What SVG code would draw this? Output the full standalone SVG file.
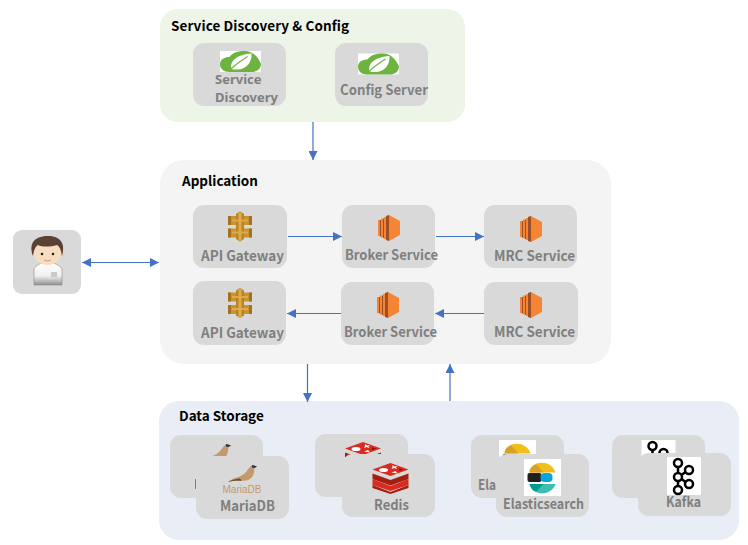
<svg xmlns="http://www.w3.org/2000/svg" width="748" height="545" viewBox="0 0 748 545">
<style>
.card{fill:#d9d9d9}
.lbl{font-family:"Noto Sans CJK KR","Noto Sans",sans-serif;font-weight:700;font-size:14px;fill:#7f7f7f}
.title{font-family:"Noto Sans CJK KR","Noto Sans",sans-serif;font-weight:700;font-size:13.5px;fill:#000}
.c{stroke:#4472c4;stroke-width:1.2;fill:none}
</style>
<defs>
<marker id="a" markerUnits="userSpaceOnUse" markerWidth="10" markerHeight="9" refX="9" refY="4.500" orient="auto-start-reverse"><path d="M0 0L9 4.500L0 9Z" fill="#4472c4"/></marker>
<g id="spring">
<rect x="-20.500" y="-10.500" width="41" height="21" fill="#fff"/>
<path d="M-20.500 2.500C-20.500-2-16-4.500-11-4.500C-8-9-2-10.500 4-10.500C11-10.500 17-6 20.500 2.500C20.500 7 17 10 12 10.500L-11 10.500C-17 10.500-20.500 7-20.500 2.500Z" fill="#6db33f"/>
<path d="M-9 7C-11-1-3-7 11-8C12 1 5 9-5 8C-7 8-8 8-9 7Z" fill="#fff"/>
<path d="M-9 7C-4 2 1-1 7-5" stroke="#6db33f" stroke-width="1.200" fill="none"/>
</g>
<g id="gw">
<path d="M-12-10.500H-2V-1.500H-12ZM2-10.500H12V-1.500H2ZM-12 2H-2V11H-12ZM2 2H12V11H2Z" fill="#c9932f"/>
<path d="M-12-10.500H-9V-1.500H-12ZM9 2H12V11H9ZM-12 2H-9V11H-12ZM9-10.500H12V-1.500H9Z" fill="#a2731f"/>
<path d="M-4-12.500L0-15L4-12.500V12.500L0 15L-4 12.500Z" fill="#b98426"/>
<path d="M-1.500-14H1.500V14H-1.500ZM-8-7H8V-5H-8ZM-8 5H8V7H-8Z" fill="#e0aa49"/>
</g>
<g id="ec2">
<path d="M0-13L11-7V7L0 13Z" fill="#f58534"/>
<path d="M-11-8H-9V8H-11ZM-8-9.500H-6V9.500H-8ZM-5-11H-3V11H-5Z" fill="#f58534"/>
<path d="M-9-8H-8V8.500H-9ZM-6-9.500H-5V10H-6ZM-3-12L0-13V13L-3 12Z" fill="#9d5025"/>
</g>
<g id="seal">
<path d="M-14 8C-8 3-3 4 2 0C6-3 7-8 11-9L15-7.500L12.500-6C12-2 12 2 9 4C6 7 3 7 0 6.500C-5 6-10 7-14 8Z" fill="#c49a6c"/>
<path d="M-14 8C-9 5-5 5-2 4.500L0 7C-5 6.500-10 7-14 8Z" fill="#6b5138"/>
<path d="M10-9L15-7.500L12.500-6L10-6.500Z" fill="#23344f"/>
</g>
<g id="redis">
<path d="M-18 7L0 14L18 7V10L0 16L-18 10Z" fill="#a41e11"/>
<path d="M-18 1L0 8L18 1V7L0 13L-18 7Z" fill="#d82c20"/>
<path d="M-18-4.500L0 2L18-4.500V1L0 7.500L-18 1Z" fill="#a41e11"/>
<path d="M-18-8.500L0-15L18-8.500L0-2Z" fill="#d82c20"/>
<ellipse cx="-7" cy="-8" rx="4.500" ry="2" fill="#fff"/>
<path d="M2-13L4-11.500L7-12L5.500-10.500L6.500-9L3.500-10L1-9L2-11Z" fill="#fff"/>
<path d="M1-5.500L5-7L7-4.500Z" fill="#fff"/>
<path d="M9-9.500L13-8.500L9-7Z" fill="#7a0c00"/>
</g>
<g id="elastic">
<rect x="-18.500" y="-18.500" width="37" height="37" fill="#fff"/>
<path d="M-13-5C-11-18 9-18 13-5Z" fill="#f0bf1a"/>
<path d="M-13-5C-13-10-9-13-6-13L1-5Z" fill="#d7a229"/>
<rect x="-15" y="-4.500" width="14" height="9" rx="2" fill="#231f20"/>
<rect x="-2" y="-4.500" width="12" height="9" rx="4" fill="#07a5de"/>
<path d="M-13 6.500C-10 19 9 19 13 6.500Z" fill="#3ebeb0"/>
<path d="M-13 6.500L1 6.500L-6 14C-9 14-12 11-13 6.500Z" fill="#019b8f"/>
</g>
<g id="kafka">
<rect x="-17" y="-19" width="34" height="38" fill="#fff"/>
<g fill="none" stroke="#000" stroke-width="2.500">
<circle cx="-6" cy="-13" r="4"/><circle cx="-6" cy="1" r="4"/><circle cx="-6" cy="14" r="4"/>
<circle cx="5" cy="-6" r="4"/><circle cx="5" cy="8" r="4"/>
<path d="M-6-9V-3M-6 5V10M-2.500-1L1.500-4M-2.500 3L1.500 6"/>
</g>
</g>
<linearGradient id="shirt" x1="0" y1="0" x2="0" y2="1"><stop offset="0" stop-color="#fff"/><stop offset=".6" stop-color="#f0f0f0"/><stop offset="1" stop-color="#8f8f8f"/></linearGradient>
</defs>

<g id="service-discovery-config">
<rect x="160" y="9" width="305" height="113" rx="18" fill="#edf4e8"/>
<text class="title" x="171" y="31" textLength="178">Service Discovery &amp; Config</text>
</g>
<g id="application">
<rect x="160" y="160" width="451" height="204" rx="24" fill="#f4f4f4"/>
<text class="title" x="182" y="186">Application</text>
</g>
<g id="data-storage">
<rect x="159" y="401" width="580" height="139" rx="20" fill="#e9edf6"/>
<text class="title" x="179" y="421">Data Storage</text>
</g>

<g id="connectors">
<path class="c" d="M313 122V160" marker-end="url(#a)"/>
<path class="c" d="M82 262.500H159" marker-start="url(#a)" marker-end="url(#a)"/>
<path class="c" d="M288 236.500H342" marker-end="url(#a)"/>
<path class="c" d="M436 236.500H484" marker-end="url(#a)"/>
<path class="c" d="M484 313.500H435" marker-end="url(#a)"/>
<path class="c" d="M341 313.500H287" marker-end="url(#a)"/>
<path class="c" d="M307.500 364V402" marker-end="url(#a)"/>
<path class="c" d="M450 401V364" marker-end="url(#a)"/>
</g>

<g id="service-discovery">
<rect class="card" x="193" y="43" width="93" height="63" rx="11"/>
<use href="#spring" x="240.500" y="61.500"/>
<text class="lbl" style="font-family:'Noto Sans',sans-serif;font-size:13px"><tspan x="215" y="83.500">Service</tspan><tspan x="215" y="101.500">Discovery</tspan></text>
</g>
<g id="config-server">
<rect class="card" x="335" y="43" width="93" height="63" rx="11"/>
<use href="#spring" x="378.500" y="64"/>
<text class="lbl" x="340" y="95" textLength="88" lengthAdjust="spacingAndGlyphs">Config Server</text>
</g>
<g id="user">
<rect class="card" x="13" y="230" width="68" height="64" rx="9"/>
<path d="M34 285V270C34 266 40 264 43 262H52C55 264 62 266 62 270V285Z" fill="url(#shirt)" stroke="#8a8a8a" stroke-width=".6"/>
<circle cx="32.500" cy="254" r="2.200" fill="#f2cfae"/><circle cx="62" cy="254" r="2.200" fill="#f2cfae"/>
<ellipse cx="47.500" cy="252" rx="14" ry="13" fill="#f8dcc0"/>
<path d="M33 256C28 242 36 236 48 236C60 236 66 243 62 256C61 250 60 247 57 245C50 247 42 247 38 245C35 247 34 250 33 256Z" fill="#5b4034"/>
<circle cx="42" cy="254" r="1.300" fill="#222"/><circle cx="53" cy="254" r="1.300" fill="#222"/>
<path d="M44 260Q47.500 262 51 260" stroke="#d89a7d" fill="none"/>
<rect x="51" y="272" width="6" height="5" fill="#c9c9c9"/>
</g>
<g id="api-gateway-1">
<rect class="card" x="193" y="205" width="94" height="63" rx="11"/>
<use href="#gw" x="240" y="226.500"/>
<text class="lbl" x="201" y="261" textLength="83" lengthAdjust="spacingAndGlyphs">API Gateway</text>
</g>
<g id="broker-service-1">
<rect class="card" x="342" y="205" width="93" height="63" rx="11"/>
<use href="#ec2" x="389" y="228"/>
<text class="lbl" x="345" y="260" textLength="93" lengthAdjust="spacingAndGlyphs">Broker Service</text>
</g>
<g id="mrc-service-1">
<rect class="card" x="484" y="205" width="93" height="63" rx="11"/>
<use href="#ec2" x="531" y="229"/>
<text class="lbl" x="494" y="261" textLength="81" lengthAdjust="spacingAndGlyphs">MRC Service</text>
</g>
<g id="api-gateway-2">
<rect class="card" x="193" y="281" width="93" height="64" rx="11"/>
<use href="#gw" x="240" y="303"/>
<text class="lbl" x="201" y="338" textLength="83" lengthAdjust="spacingAndGlyphs">API Gateway</text>
</g>
<g id="broker-service-2">
<rect class="card" x="341" y="282" width="93" height="63" rx="11"/>
<use href="#ec2" x="388" y="305"/>
<text class="lbl" x="344" y="337" textLength="93" lengthAdjust="spacingAndGlyphs">Broker Service</text>
</g>
<g id="mrc-service-2">
<rect class="card" x="484" y="282" width="94" height="63" rx="11"/>
<use href="#ec2" x="531" y="305"/>
<text class="lbl" x="494" y="337" textLength="81" lengthAdjust="spacingAndGlyphs">MRC Service</text>
</g>

<g id="mariadb-back">
<rect class="card" x="170" y="435" width="93" height="63" rx="11"/>
<use href="#seal" x="216" y="453"/>
<rect x="195" y="479" width="1" height="10" fill="#7f7f7f"/>
</g>
<g id="mariadb">
<rect class="card" x="196" y="456" width="93" height="63" rx="11"/>
<use href="#seal" x="242" y="474"/>
<text x="222.500" y="493" font-family="'Liberation Sans',sans-serif" font-size="10.500" fill="#c49a6c" textLength="39" lengthAdjust="spacingAndGlyphs">MariaDB</text>
<text class="lbl" x="220" y="511" textLength="55" lengthAdjust="spacingAndGlyphs">MariaDB</text>
</g>
<g id="redis-back">
<rect class="card" x="315" y="434" width="93" height="63" rx="11"/>
<use href="#redis" x="363" y="457"/>
</g>
<g id="redis-front">
<rect class="card" x="342" y="454" width="93" height="63" rx="11"/>
<use href="#redis" x="390.500" y="478"/>
<text class="lbl" x="374" y="510" textLength="35" lengthAdjust="spacingAndGlyphs">Redis</text>
</g>
<g id="elasticsearch-back">
<rect class="card" x="471" y="435" width="93" height="63" rx="11"/>
<use href="#elastic" x="517.500" y="458.500"/>
<text class="lbl" x="478" y="490" textLength="18" lengthAdjust="spacingAndGlyphs">Ela</text>
</g>
<g id="elasticsearch">
<rect class="card" x="496" y="454" width="93" height="63" rx="11"/>
<use href="#elastic" x="542.500" y="477.500"/>
<text class="lbl" x="503" y="509" textLength="81" lengthAdjust="spacingAndGlyphs">Elasticsearch</text>
</g>
<g id="kafka-back">
<rect class="card" x="612" y="435" width="93" height="63" rx="11"/>
<use href="#kafka" x="658.500" y="459"/>
</g>
<g id="kafka-front">
<rect class="card" x="638" y="453" width="93" height="63" rx="11"/>
<use href="#kafka" x="684" y="476"/>
<text class="lbl" x="666" y="507" textLength="35" lengthAdjust="spacingAndGlyphs">Kafka</text>
</g>
</svg>
